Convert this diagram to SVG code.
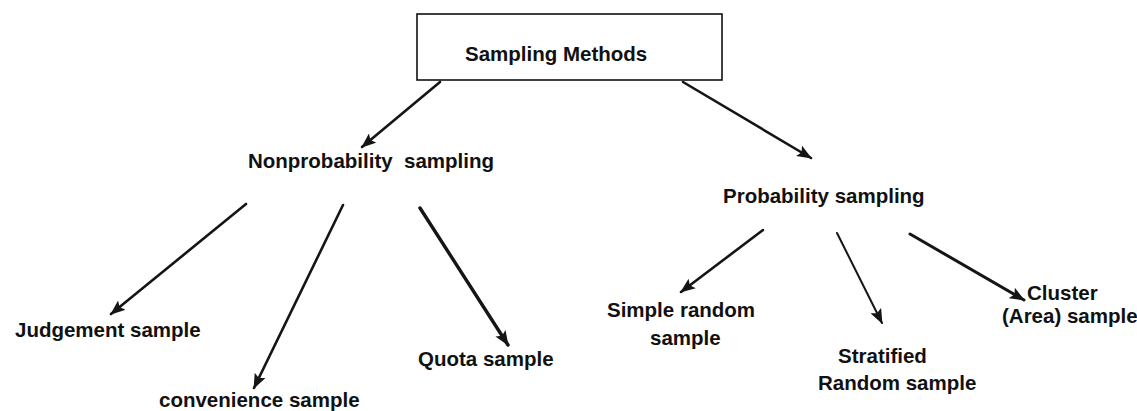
<svg xmlns="http://www.w3.org/2000/svg" width="1137" height="411" viewBox="0 0 1137 411">
<defs>
<style>
.t{font-family:"Liberation Sans",Arial,sans-serif;font-weight:bold;font-size:20.5px;fill:#111;white-space:pre}
.c{stroke:#151515;stroke-width:2.6;fill:none;stroke-linecap:round}
.box{fill:#fff;stroke:#111;stroke-width:1.6}
</style>
<marker id="ah" markerUnits="userSpaceOnUse" markerWidth="16" markerHeight="12" refX="14" refY="6" orient="auto">
<path d="M0,0 L15,6 L0,12 L3,6 z" fill="#151515"/>
</marker>
</defs>
<rect width="1137" height="411" fill="#fff"/>
<g id="connectors">
<path class="c" d="M440,82 L362,147" marker-end="url(#ah)"/>
<path class="c" d="M683,82 L811,158" marker-end="url(#ah)"/>
<path class="c" d="M246,204 L111,314" marker-end="url(#ah)"/>
<path class="c" d="M343,205 L254,388" marker-end="url(#ah)"/>
<path class="c" d="M420,208 L508,345" marker-end="url(#ah)" style="stroke-width:3.4"/>
<path class="c" d="M763,230 L681,292" marker-end="url(#ah)"/>
<path class="c" d="M837,233 L882,323" marker-end="url(#ah)" style="stroke-width:2"/>
<path class="c" d="M910,234 L1024,300" marker-end="url(#ah)" style="stroke-width:3"/>
</g>
<g id="root">
<rect class="box" x="417" y="14" width="305" height="66"/>
<text class="t" x="465" y="61">Sampling Methods</text>
</g>
<g id="nonprob"><text class="t" x="248" y="168">Nonprobability  sampling</text></g>
<g id="prob"><text class="t" x="723" y="203">Probability sampling</text></g>
<g id="judgement"><text class="t" x="15" y="337">Judgement sample</text></g>
<g id="convenience"><text class="t" x="159" y="407">convenience sample</text></g>
<g id="quota"><text class="t" x="418" y="366">Quota sample</text></g>
<g id="simple"><text class="t" x="607" y="317">Simple random</text><text class="t" x="650" y="345">sample</text></g>
<g id="stratified"><text class="t" x="838" y="363">Stratified</text><text class="t" x="818" y="390">Random sample</text></g>
<g id="cluster"><text class="t" x="1027" y="300">Cluster</text><text class="t" x="1002" y="323">(Area) sample</text></g>
</svg>
